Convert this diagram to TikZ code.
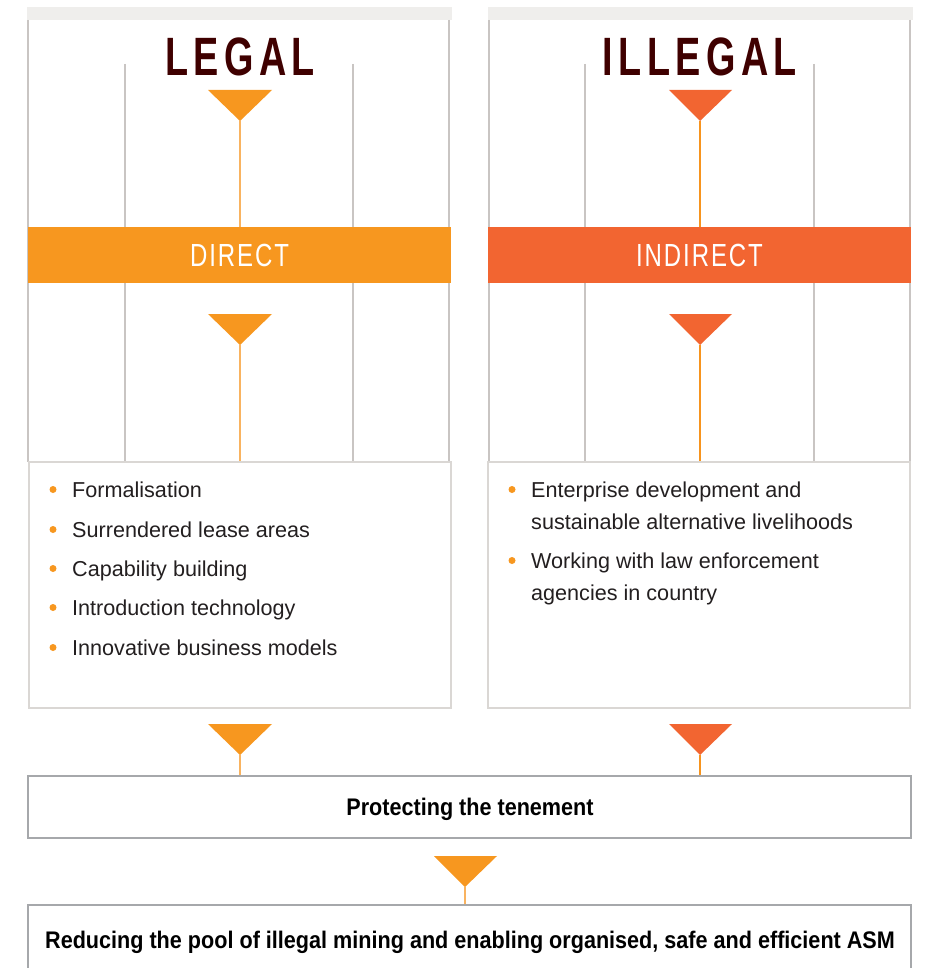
\documentclass[tikz,border=0pt]{standalone}
\usepackage{fontspec}
\setmainfont{Liberation Sans}
\newfontfamily\titlefont[FakeStretch=0.7,LetterSpace=10]{Liberation Sans}
\newfontfamily\barfont[FakeStretch=0.75,LetterSpace=6]{Liberation Sans}
\newfontfamily\condbold[FakeStretch=0.9]{Liberation Sans}
\definecolor{orA}{HTML}{F7971F}
\definecolor{orB}{HTML}{F26531}
\definecolor{lineA}{HTML}{F9B360}
\definecolor{lineB}{HTML}{F7941E}
\definecolor{grayV}{HTML}{C9C5C3}
\definecolor{boxG}{HTML}{DAD7D4}
\definecolor{boxD}{HTML}{A6A8AB}
\definecolor{topG}{HTML}{EFEEEC}
\definecolor{maroonT}{HTML}{3F0000}
\definecolor{txt}{HTML}{231F20}
\tikzset{
  topbar/.style={fill=topG, inner sep=0pt, minimum width=425pt, minimum height=13pt},
  gline/.style={draw=grayV, line width=1.2pt},
  title/.style={anchor=base, inner sep=0pt, text=maroonT, font=\titlefont\bfseries\fontsize{54}{60}\selectfont},
  band/.style={inner sep=0pt, minimum width=423pt, minimum height=56pt, text=white, font=\barfont\fontsize{32}{36}\selectfont},
  listbox/.style={draw=boxG, line width=2pt, fill=white, inner sep=0pt, minimum width=422pt, minimum height=246pt},
  item/.style={anchor=base west, inner sep=0pt, text=txt, font=\fontsize{21.6}{25}\selectfont},
  dot/.style={circle, fill=orA, inner sep=0pt, minimum size=7pt},
  conA/.style={draw=lineA, line width=1.4pt},
  conB/.style={draw=lineB, line width=1.4pt},
  resbox/.style={draw=boxD, line width=2.5pt, fill=white, inner sep=0pt, minimum width=883pt},
  restext/.style={inner sep=0pt, text=black, font=\condbold\bfseries\fontsize{24}{28}\selectfont},
}
\begin{document}
\begin{tikzpicture}[x=1pt,y=-1pt]
\useasboundingbox (0,0) rectangle (937,968);
% ---------- LEFT PANEL ----------
\node[topbar] (topL) at (239.5,13.5) {};
\draw[gline] (28,20) -- (28,462);
\draw[gline] (449,20) -- (449,462);
\draw[gline] (125,64) -- (125,462);
\draw[gline] (353,64) -- (353,462);
\node[title] (legal) at (240,76) {LEGAL};
\coordinate (tL1) at (240,121);
\fill[orA] (208,90) -- (272,90) -- (tL1) -- cycle;
\node[band, fill=orA] (direct) at (239.5,255) {DIRECT};
\draw[conA] (tL1) -- (tL1 |- direct.north);
\coordinate (tL2) at (240,345);
\fill[orA] (208,314) -- (272,314) -- (tL2) -- cycle;
\node[listbox] (boxL) at (239.5,585) {};
\draw[conA] (tL2) -- (tL2 |- boxL.north);
\foreach \yy/\tt [count=\i] in {497/Formalisation, 537/Surrendered lease areas, 576/Capability building, 615/Introduction technology, 655/Innovative business models}{
  \node[dot] (dL\i) at (53,\yy-7.5) {};
  \node[item] (iL\i) at (72,\yy) {\tt};
}
% ---------- RIGHT PANEL ----------
\node[topbar] (topR) at (700.5,13.5) {};
\draw[gline] (489,20) -- (489,462);
\draw[gline] (910,20) -- (910,462);
\draw[gline] (585,64) -- (585,462);
\draw[gline] (814,64) -- (814,462);
\node[title] (illegal) at (700,76) {ILLEGAL};
\coordinate (tR1) at (700,121);
\fill[orB] (669,90) -- (732,90) -- (tR1) -- cycle;
\node[band, fill=orB] (indirect) at (699.5,255) {INDIRECT};
\draw[conB] (tR1) -- (tR1 |- indirect.north);
\coordinate (tR2) at (700,345);
\fill[orB] (669,314) -- (732,314) -- (tR2) -- cycle;
\node[listbox] (boxR) at (699,585) {};
\draw[conB] (tR2) -- (tR2 |- boxR.north);
\node[dot] (dR1) at (512,489.5) {};
\node[item] (iR1) at (531,497) {Enterprise development and};
\node[item] (iR1b) at (531,529) {sustainable alternative livelihoods};
\node[dot] (dR2) at (512,560.5) {};
\node[item] (iR2) at (531,568) {Working with law enforcement};
\node[item] (iR2b) at (531,600) {agencies in country};
% ---------- BOTTOM ----------
\node[resbox, minimum height=62pt] (prot) at (469.5,807) {};
\node[restext] (protT) at (470,809) {Protecting the tenement};
\coordinate (tB1) at (240,755);
\fill[orA] (208,724) -- (272,724) -- (tB1) -- cycle;
\draw[conA] (tB1) -- (tB1 |- prot.north);
\coordinate (tB2) at (700,755);
\fill[orB] (669,724) -- (732,724) -- (tB2) -- cycle;
\draw[conB] (tB2) -- (tB2 |- prot.north);
\node[resbox, minimum height=80pt] (reduce) at (469.5,945) {};
\node[restext] (reduceT) at (470,942) {Reducing the pool of illegal mining and enabling organised, safe and efficient ASM};
\coordinate (tB3) at (465,887);
\fill[orA] (434,856) -- (497,856) -- (tB3) -- cycle;
\draw[conA] (tB3) -- (tB3 |- reduce.north);
\end{tikzpicture}
\end{document}
